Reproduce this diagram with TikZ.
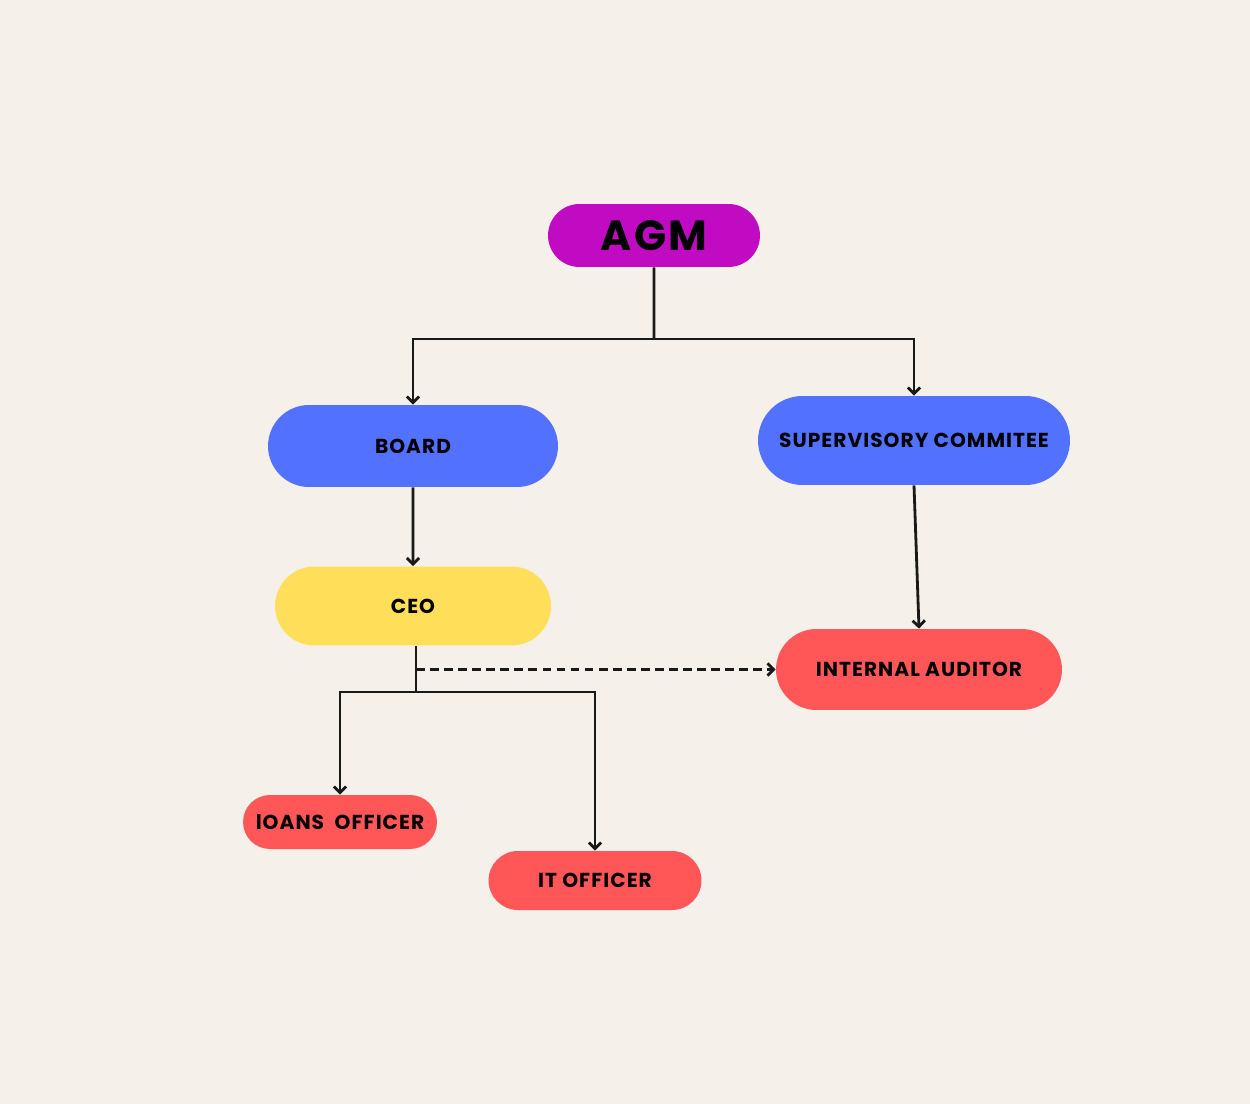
\documentclass[tikz,border=0pt]{standalone}
\usepackage{fontspec}
\setmainfont{Poppins}[LetterSpace=5]
\usetikzlibrary{shapes.misc, arrows.meta, positioning}

\definecolor{paper}{HTML}{F5F0EA}
\definecolor{agmpurple}{HTML}{C10BC3}
\definecolor{boardblue}{HTML}{5271FF}
\definecolor{ceoyellow}{HTML}{FFDE59}
\definecolor{staffred}{HTML}{FF5757}

\begin{document}
\begin{tikzpicture}[x=0.02cm, y=-0.02cm, font=\bfseries\fontsize{11.5}{13}\selectfont]

  \tikzset{
    orgbox/.style={rounded rectangle, fill=#1, inner sep=0pt},
    link/.style={line width=1.6pt, black!90},
    arrowlink/.style={link, -{Straight Barb[length=3.5pt, width=7pt]}}
  }

  \fill[paper] (0,0) rectangle (1250,1104);

  \node[orgbox=agmpurple, minimum width=4.24cm, minimum height=1.26cm,
    font=\bfseries\fontsize{24}{26}\selectfont] (agm) at (654,235.5) {AGM};

  \node[orgbox=boardblue, minimum width=5.8cm, minimum height=1.64cm]
    (board) at (413,446) {BOARD};
  \node[orgbox=boardblue, minimum width=6.24cm, minimum height=1.78cm]
    (super) at (914,440.5) {SUPERVISORY COMMITEE};

  \node[orgbox=ceoyellow, minimum width=5.52cm, minimum height=1.58cm]
    (ceo) at (413,606) {CEO};
  \node[orgbox=staffred, minimum width=5.72cm, minimum height=1.62cm]
    (auditor) at (919,669.5) {INTERNAL AUDITOR};

  \node[orgbox=staffred, minimum width=3.88cm, minimum height=1.08cm]
    (loans) at (340,822) {lOANS\ \ OFFICER};
  \node[orgbox=staffred, minimum width=4.26cm, minimum height=1.18cm]
    (itoff) at (595,880.5) {IT OFFICER};

  % AGM splits to board and committee
  \coordinate (split) at (654,339);
  \draw[link] (agm) -- (split);
  \draw[arrowlink] (split) -| (board.north);
  \draw[arrowlink] (split) -| (super.north);

  \draw[arrowlink] (board) -- (ceo);
  \draw[arrowlink] (super.south) -- (auditor.north);

  % CEO to officers
  \coordinate (branch) at (416,692);
  \draw[link] (ceo.south -| branch) -- (branch);
  \draw[arrowlink] (branch) -| (loans.north);
  \draw[arrowlink] (branch) -| (itoff.north);
  \draw[arrowlink, dash pattern=on 5pt off 3pt] (auditor.west -| branch) -- (auditor.west);

\end{tikzpicture}
\end{document}
